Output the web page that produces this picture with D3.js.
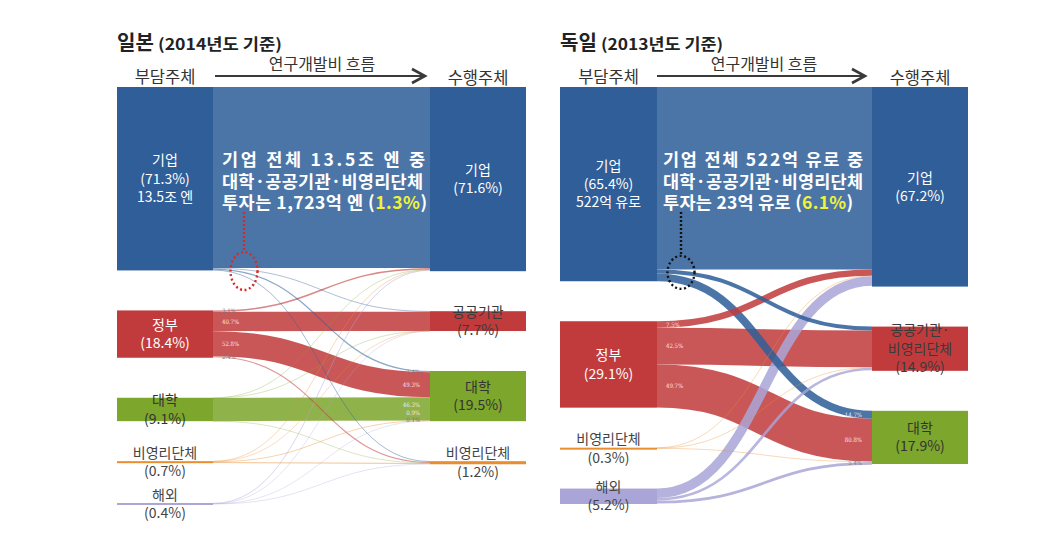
<!DOCTYPE html>
<html><head><meta charset="utf-8">
<script src="https://cdn.jsdelivr.net/npm/d3@7"></script>
<style>
body{margin:0;background:#fff;}
svg{display:block;}
</style>
</head><body>
<svg id="c" width="1044" height="534"></svg>
<script>
// ================= DATA =================
// ---- Japan (2014) ----
const jpTitle = "일본";
const jpYear = "(2014년도 기준)";
const jpSrcNames = ["기업", "정부", "대학", "비영리단체", "해외"];
const jpSrcShares = [71.3, 18.4, 9.1, 0.7, 0.4];
const jpSrcExtra = ["13.5조 엔", "", "", "", ""];
const jpTgtNames = ["기업", "공공기관", "대학", "비영리단체"];
const jpTgtShares = [71.6, 7.7, 19.5, 1.2];
// flows (share of national total) rows = source, cols = target
const jpFlowBiz  = [70.37, 0.20, 0.47, 0.26];
const jpFlowGov  = [0.57, 7.49, 9.72, 0.44];
const jpFlowUniv = [0.04, 0.02, 9.03, 0.01];
const jpFlowNpo  = [0.10, 0.02, 0.18, 0.40];
const jpFlowFor  = [0.30, 0.03, 0.02, 0.05];
const jpGovOutLabels = ["3.1%", "40.7%", "52.8%", "2.4%"];          // 정부 → each target
const jpUnivInLabels = ["2.4%", "49.3%", "46.3%", "0.9%", "0.1%"];  // each source → 대학
const jpNoteLines = ["기업 전체 13.5조 엔 중", "대학·공공기관·비영리단체", "투자는 1,723억 엔 (1.3%)"];
const jpNoteHighlight = "1.3%";

// ---- Germany (2013) ----
const deTitle = "독일";
const deYear = "(2013년도 기준)";
const deSrcNames = ["기업", "정부", "비영리단체", "해외"];
const deSrcShares = [65.4, 29.1, 0.3, 5.2];
const deSrcExtra = ["522억 유로", "", "", ""];
const deTgtNames = ["기업", "공공기관·\n비영리단체", "대학"];
const deTgtShares = [67.2, 14.9, 17.9];
const deFlowBiz = [61.41, 1.36, 2.63];
const deFlowGov = [2.18, 12.37, 14.46];
const deFlowNpo = [0.10, 0.10, 0.10];
const deFlowFor = [3.20, 0.90, 0.97];
const deGovOutLabels = ["7.5%", "42.5%", "49.7%"];
const deUnivInLabels = ["14.7%", "80.8%", "", "5.4%"];
const deNoteLines = ["기업 전체 522억 유로 중", "대학·공공기관·비영리단체", "투자는 23억 유로 (6.1%)"];
const deNoteHighlight = "6.1%";

const headLeft = "부담주체", headMid = "연구개발비 흐름", headRight = "수행주체";

// ================= STYLE / LAYOUT =================
const FONT = '"Noto Sans CJK KR","Noto Sans",sans-serif';
const C = {blue:"#2f5e98", red:"#c13b3d", green:"#7da62c", orange:"#e98d2e", lav:"#a9a5d7"};

const panels = [
  {
    title: jpTitle, year: jpYear,
    srcNames: jpSrcNames, srcShares: jpSrcShares, srcExtra: jpSrcExtra,
    tgtNames: jpTgtNames, tgtShares: jpTgtShares,
    flows: [jpFlowBiz, jpFlowGov, jpFlowUniv, jpFlowNpo, jpFlowFor],
    outLabelSrc: 1, outLabels: jpGovOutLabels,
    inLabelTgt: 2, inLabels: jpUnivInLabels,
    note: jpNoteLines, hi: jpNoteHighlight,
    srcColors: [C.blue, C.red, C.green, C.orange, C.lav],
    tgtColors: [C.blue, C.red, C.green, C.orange],
    srcText: ["#fff","#fff","#333","#444","#444"],
    tgtText: ["#fff","#3a3a3a","#333","#444"],
    xL: 117, xLr: 213, xR: 430, xRr: 526,
    noteX: 222, noteW: [203, 201, 205], noteDot: "#d42a2a", ellOff: 31, ellRy: 19,
    yearW: 124,
    headMidX: 322, arrowX0: 215, arrowX1: 425
  },
  {
    title: deTitle, year: deYear,
    srcNames: deSrcNames, srcShares: deSrcShares, srcExtra: deSrcExtra,
    tgtNames: deTgtNames, tgtShares: deTgtShares,
    flows: [deFlowBiz, deFlowGov, deFlowNpo, deFlowFor],
    outLabelSrc: 1, outLabels: deGovOutLabels,
    inLabelTgt: 2, inLabels: deUnivInLabels,
    note: deNoteLines, hi: deNoteHighlight,
    srcColors: [C.blue, C.red, C.orange, C.lav],
    tgtColors: [C.blue, C.red, C.green],
    srcText: ["#fff","#fff","#444","#444"],
    tgtText: ["#fff","#3a3a3a","#333"],
    xL: 560, xLr: 657, xR: 872, xRr: 968,
    noteX: 663, noteW: [200, 200, 190], noteDot: "#111", ellOff: 24, ellRy: 16.5,
    yearW: 122,
    headMidX: 764, arrowX0: 657, arrowX1: 865
  }
];

const TOP = 87, BOTTOM = 504, PAD = 40;
const svg = d3.select("#c");

function drawPanel(p) {
  const g = svg.append("g");
  const nS = p.srcShares.length;
  const y = d3.scaleLinear()
    .domain([0, d3.sum(p.srcShares)])
    .range([0, (BOTTOM - TOP) - PAD * (nS - 1)]);
  const op = d3.scaleLinear().domain([0, 1]).range([0.28, 0.86]).clamp(true);

  // node layout
  const layout = (shares) => {
    let cur = TOP;
    return shares.map(v => {
      const h = Math.max(2, y(v));
      const n = {y0: cur, y1: cur + y(v), h};
      cur += y(v) + PAD;
      return n;
    });
  };
  const src = layout(p.srcShares);
  const tgt = layout(p.tgtShares);

  // link layout
  const links = [];
  p.flows.forEach((row, i) => row.forEach((v, j) => links.push({i, j, v, w: y(v)})));
  const sOff = src.map(n => n.y0), tOff = tgt.map(n => n.y0);
  p.flows.forEach((row, i) => row.forEach((v, j) => {
    const l = links.find(d => d.i === i && d.j === j);
    l.sy = sOff[i]; sOff[i] += l.w;
  }));
  p.tgtShares.forEach((_, j) => p.flows.forEach((row, i) => {
    const l = links.find(d => d.i === i && d.j === j);
    l.ty = tOff[j]; tOff[j] += l.w;
  }));

  const linkGen = d3.linkHorizontal();
  const lg = g.append("g");
  links.slice().sort((a, b) => b.v - a.v).forEach(l => {
    const sw = Math.max(1, l.w);
    lg.append("path")
      .attr("d", linkGen({source: [p.xLr, l.sy + l.w / 2], target: [p.xR, l.ty + l.w / 2]}))
      .attr("fill", "none")
      .attr("stroke", p.srcColors[l.i])
      .attr("stroke-opacity", op(l.v))
      .attr("stroke-width", sw);
  });

  // nodes
  g.selectAll(".sn").data(src).enter().append("rect")
    .attr("x", p.xL).attr("width", p.xLr - p.xL)
    .attr("y", d => d.y0).attr("height", d => d.h)
    .attr("fill", (d, i) => p.srcColors[i]);
  g.selectAll(".tn").data(tgt).enter().append("rect")
    .attr("x", p.xR).attr("width", p.xRr - p.xR)
    .attr("y", d => d.y0).attr("height", d => d.h)
    .attr("fill", (d, i) => p.tgtColors[i]);

  // node labels
  const nodeLabel = (n, lines, cx, fill) => {
    const mid = (n.y0 + n.y0 + n.h) / 2;
    const lh = 18.3;
    lines.forEach((t, k) => {
      g.append("text")
        .attr("x", cx)
        .attr("y", mid + (k - (lines.length - 1) / 2) * lh)
        .attr("dy", "0.35em")
        .attr("text-anchor", "middle")
        .attr("font-family", FONT).attr("font-size", 14)
        .attr("fill", fill)
        .text(t);
    });
  };
  src.forEach((n, i) => {
    const lines = [p.srcNames[i], "(" + p.srcShares[i].toFixed(1) + "%)"];
    if (p.srcExtra[i]) lines.push(p.srcExtra[i]);
    nodeLabel(n, lines, (p.xL + p.xLr) / 2, p.srcText[i]);
  });
  tgt.forEach((n, j) => {
    const lines = p.tgtNames[j].split("\n").concat(["(" + p.tgtShares[j].toFixed(1) + "%)"]);
    nodeLabel(n, lines, (p.xR + p.xRr) / 2, p.tgtText[j]);
  });

  // small percentage labels
  const small = (x, yy, t, anchor, light) => g.append("text")
    .attr("x", x).attr("y", yy).attr("dy", "0.35em")
    .attr("text-anchor", anchor)
    .attr("font-family", '"DejaVu Serif Condensed","Liberation Serif",serif')
    .attr("font-size", 6)
    .attr("fill", light ? "#fbe6e6" : "#777")
    .text(t);
  p.outLabels.forEach((t, j) => {
    const l = links.find(d => d.i === p.outLabelSrc && d.j === j);
    if (t) small(p.xLr + 9, l.sy + l.w / 2, t, "start", l.w >= 4);
  });
  // target-side labels with simple de-overlap
  const inL = p.inLabels.map((t, i) => {
    const l = links.find(d => d.i === i && d.j === p.inLabelTgt);
    return {t, l, yy: l.ty + l.w / 2};
  }).filter(d => d.t);
  const gap = 7.5;
  for (let k = 1; k < inL.length; k++) if (inL[k].yy < inL[k - 1].yy + gap) inL[k].yy = inL[k - 1].yy + gap;
  const node = tgt[p.inLabelTgt];
  if (inL[inL.length - 1].yy > node.y1 && inL.length > 2) {
    inL[inL.length - 1].yy = node.y1 - 1;
    for (let k = inL.length - 2; k >= 0; k--) if (inL[k].yy > inL[k + 1].yy - gap) inL[k].yy = inL[k + 1].yy - gap;
  }
  inL.forEach(d => small(p.xR - 10, d.yy, d.t, "end",
    d.l.w >= 4 || (d.yy < node.y1 - 1 && d.yy > node.y0 + 20)));

  // title
  g.append("text").attr("x", p.xL).attr("y", 50)
    .attr("font-family", FONT).attr("font-weight", "bold").attr("fill", "#222")
    .attr("font-size", 20).text(p.title);
  g.append("text").attr("x", p.xL + 41).attr("y", 50)
    .attr("font-family", FONT).attr("font-weight", "bold").attr("fill", "#222")
    .attr("font-size", 15.5)
    .attr("textLength", p.yearW).attr("lengthAdjust", "spacingAndGlyphs")
    .text(p.year);

  // header
  g.append("text").attr("x", (p.xL + p.xLr) / 2).attr("y", 83)
    .attr("text-anchor", "middle").attr("font-family", FONT).attr("font-size", 16.5)
    .attr("fill", "#333").text(headLeft);
  g.append("text").attr("x", (p.xR + p.xRr) / 2).attr("y", 84)
    .attr("text-anchor", "middle").attr("font-family", FONT).attr("font-size", 16.5)
    .attr("fill", "#333").text(headRight);
  g.append("text").attr("x", p.headMidX).attr("y", 70)
    .attr("text-anchor", "middle").attr("font-family", FONT).attr("font-size", 16)
    .attr("fill", "#333").text(headMid);
  g.append("line").attr("x1", p.arrowX0).attr("x2", p.arrowX1 - 1)
    .attr("y1", 76).attr("y2", 76).attr("stroke", "#3a3a3a").attr("stroke-width", 2.2);
  g.append("path")
    .attr("d", `M${p.arrowX1 - 13},${69}L${p.arrowX1},${76}L${p.arrowX1 - 13},${83}`)
    .attr("fill", "none").attr("stroke", "#3a3a3a").attr("stroke-width", 2.6);

  // note text
  const noteYs = [TOP + 73, TOP + 95, TOP + 116];
  p.note.forEach((line, k) => {
    const t = g.append("text").attr("x", p.noteX).attr("y", noteYs[k]).attr("dy", "0.35em")
      .attr("font-family", FONT).attr("font-weight", "bold").attr("font-size", 17.5)
      .attr("fill", "#fff")
      .attr("textLength", p.noteW[k]).attr("lengthAdjust", "spacing");
    const idx = line.indexOf(p.hi);
    if (idx >= 0) {
      t.append("tspan").text(line.slice(0, idx));
      t.append("tspan").attr("fill", "#f2f23a").text(p.hi);
      t.append("tspan").text(line.slice(idx + p.hi.length));
    } else t.text(line);
  });

  // dotted callout
  const selfBand = links.find(d => d.i === 0 && d.j === 0);
  const ecx = p.xLr + p.ellOff, ecy = selfBand.sy + selfBand.w + 3;
  g.append("line").attr("x1", ecx).attr("x2", ecx)
    .attr("y1", noteYs[2] + 9).attr("y2", ecy - p.ellRy)
    .attr("stroke", p.noteDot).attr("stroke-width", 2.4).attr("stroke-dasharray", "2,2");
  g.append("ellipse").attr("cx", ecx).attr("cy", ecy).attr("rx", 13.5).attr("ry", p.ellRy)
    .attr("fill", "none").attr("stroke", p.noteDot).attr("stroke-width", 2.4)
    .attr("stroke-dasharray", "2,2.6");
}

panels.forEach(drawPanel);
</script>
</body></html>
